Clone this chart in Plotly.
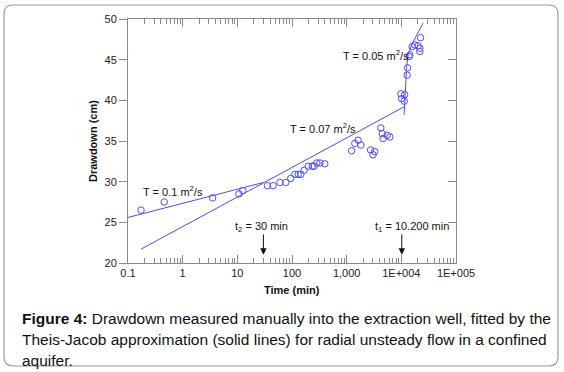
import numpy as np
import plotly.graph_objects as go

# ---- data ----
time_min = [0.173, 0.46, 3.53, 10.7, 12.6, 35.7, 45, 60, 77, 95, 113, 130, 145, 167,
            198, 235, 254, 285, 324, 398, 1230, 1410, 1620, 1820, 2740, 3040, 3250,
            4220, 4470, 4650, 5500, 6170, 9800, 11500, 10100, 11300, 12770, 12980,
            13900, 14300, 15780, 17670, 20300, 21800, 21800, 22440]
drawdown_cm = [26.5, 27.5, 28.0, 28.5, 28.9, 29.5, 29.5, 29.9, 29.9, 30.4, 30.9, 30.9, 30.9, 31.4,
               31.9, 31.9, 31.9, 32.3, 32.3, 32.2, 33.8, 34.7, 35.1, 34.5, 33.9, 33.3, 33.7,
               36.6, 35.9, 35.3, 35.7, 35.5, 40.8, 40.7, 40.2, 39.9, 43.1, 44.0,
               45.4, 45.6, 46.6, 46.8, 46.7, 46.4, 46.0, 47.7]

fit1_t = [0.1, 30]
fit1_s = [25.6, 29.9]
fit2_t = [0.173, 11200]
fit2_s = [21.7, 39.2]
fit3_t = [11250, 11600, 12450, 13300, 15400, 19000, 25000]
fit3_s = [38.2, 40.7, 43.9, 45.6, 46.8, 48.0, 49.5]

x_tickvals = [0.1, 1, 10, 100, 1000, 10000, 100000]
x_ticktext = ["0.1", "1", "10", "100", "1,000", "1E+004", "1E+005"]
x_minorvals = [m * d for d in [0.1, 1, 10, 100, 1000, 10000] for m in range(2, 10)]
y_tickvals = [20, 25, 30, 35, 40, 45, 50]

t2_time, t1_time = 30, 10200

BLUE = "#4b4bff"
AX = "#8a8a8a"
FONT = "Liberation Sans, Arial, sans-serif"

fig = go.Figure()
for tx, sy in [(fit1_t, fit1_s), (fit2_t, fit2_s), (fit3_t, fit3_s)]:
    fig.add_trace(go.Scatter(x=tx, y=sy, mode="lines", line=dict(color=BLUE, width=1),
                             showlegend=False, hoverinfo="skip"))
fig.add_trace(go.Scatter(x=time_min, y=drawdown_cm, mode="markers",
                         marker=dict(symbol="circle-open", size=6.5, color=BLUE,
                                     line=dict(width=1, color=BLUE)),
                         showlegend=False))
# helper trace to activate right-hand axis
fig.add_trace(go.Scatter(x=fit1_t, y=fit1_s, mode="lines", yaxis="y2", opacity=0,
                         showlegend=False, hoverinfo="skip"))

W, H = 564, 372
PL, PR, PT, PB = 128, 456, 19, 263          # plot area in window pixels
pw, ph = PR - PL, PB - PT
def px(x):  # window pixel -> paper x
    return (x - PL) / pw
def py(y):
    return (PB - y) / ph

tickfont = dict(family=FONT, size=11, color="#222")
fig.update_layout(
    width=W, height=H, margin=dict(l=PL, r=W - PR, t=PT, b=H - PB),
    paper_bgcolor="white", plot_bgcolor="white",
    xaxis=dict(type="log", range=[-1, 5], tickmode="array", tickvals=x_tickvals,
               ticktext=x_ticktext, ticks="inside", ticklen=8, tickcolor=AX,
               showline=True, linecolor=AX, linewidth=1, mirror="ticks",
               showgrid=False, zeroline=False, tickfont=tickfont,
               minor=dict(tickmode="array", tickvals=x_minorvals, ticks="inside",
                          ticklen=5, tickcolor=AX, showgrid=False)),
    yaxis=dict(range=[20, 50], tickmode="array", tickvals=y_tickvals, ticks="outside",
               ticklen=8, tickcolor=AX, showline=True, linecolor=AX, linewidth=1,
               showgrid=False, zeroline=False, tickfont=tickfont),
    yaxis2=dict(range=[20, 50], overlaying="y", side="right", tickmode="array",
                tickvals=y_tickvals, ticks="inside", ticklen=8, tickcolor=AX,
                showline=True, linecolor=AX, showticklabels=False, showgrid=False,
                zeroline=False),
)

ann = []
lab = dict(family=FONT, size=11, color="#111")
C = dict(xref="paper", yref="paper", xanchor="center", yanchor="middle", showarrow=False)
ann.append(dict(text="<b>Time (min)</b>", x=px(292), y=py(290), font=lab, **C))
ann.append(dict(text="<b>Drawdown (cm)</b>", x=px(93), y=py(141), textangle=-90, font=lab, **C))
for txt, cx, cy in [("T = 0.1 m<sup>2</sup>/s", 173, 191), ("T = 0.07 m<sup>2</sup>/s", 323, 128),
                    ("T = 0.05 m<sup>2</sup>/s", 376, 55),
                    ("t<sub>2</sub> = 30 min", 261, 227), ("t<sub>1</sub> = 10.200 min", 412, 227)]:
    ann.append(dict(text=txt, x=px(cx), y=py(cy), font=lab, **C))
for tv in [t2_time, t1_time]:
    ann.append(dict(text="", x=np.log10(tv), y=21.0, xref="x", yref="y", showarrow=True,
                    ax=0, ay=-22, arrowhead=2, arrowsize=1.3, arrowwidth=1, arrowcolor="#111"))
caption_lines = [
    "<b>Figure 4:</b> Drawdown measured manually into the extraction well, fitted by the",
    "Theis-Jacob approximation (solid lines) for radial unsteady flow in a confined",
    "aquifer.",
]
for line, cy in zip(caption_lines, [318, 339.5, 360]):
    ann.append(dict(text=line, x=px(20), y=py(cy), xref="paper", yref="paper", xanchor="left",
                    yanchor="middle", align="left", showarrow=False,
                    font=dict(family=FONT, size=15.5, color="#111")))
fig.update_layout(annotations=ann)

# rounded frame around the whole figure
x0, x1, y0, y1, r = 4, 558, 5, 366, 9
path = (f"M {px(x0+r)} {py(y0)} L {px(x1-r)} {py(y0)} Q {px(x1)} {py(y0)} {px(x1)} {py(y0+r)} "
        f"L {px(x1)} {py(y1-r)} Q {px(x1)} {py(y1)} {px(x1-r)} {py(y1)} "
        f"L {px(x0+r)} {py(y1)} Q {px(x0)} {py(y1)} {px(x0)} {py(y1-r)} "
        f"L {px(x0)} {py(y0+r)} Q {px(x0)} {py(y0)} {px(x0+r)} {py(y0)} Z")
fig.add_shape(type="path", path=path, xref="paper", yref="paper",
              line=dict(color="#9a9a9a", width=1.2), layer="below")

fig.write_html("out.html", config={"displayModeBar": False},
               post_script="document.body.style.margin='0px';document.body.style.overflow='hidden';")
